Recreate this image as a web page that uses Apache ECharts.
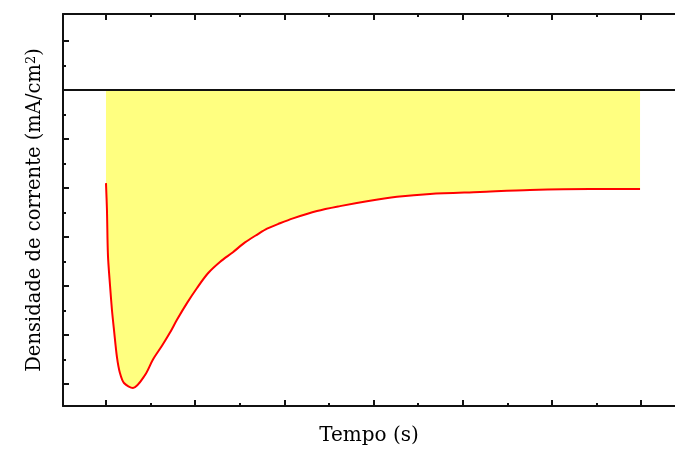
<!DOCTYPE html>
<html>
<head>
<meta charset="utf-8">
<script src="https://cdn.jsdelivr.net/npm/echarts@6/dist/echarts.min.js"></script>
<style>
  html, body { margin: 0; padding: 0; background: #fff; }
  #chart { width: 675px; height: 453px; }
</style>
</head>
<body>
<div id="chart"></div>
<script>
// tempo (s) e densidade de corrente (mA/cm2)
var tempo = [0, 0.11, 0.22, 0.45, 0.67, 0.9, 1.23, 1.57, 2.02, 3.03, 4.37, 5.27, 6.28, 7.18, 7.96, 9.08, 10.21, 11.44, 12.78, 14.24, 15.59, 17.05, 18.06, 19.51, 20.97, 23.66, 26.24, 29.27, 32.63, 36.34, 41.94, 47.55, 54.28, 59.89];
var corrente = [-1.9, -2.45, -3.37, -3.98, -4.49, -4.9, -5.45, -5.78, -5.98, -6.08, -5.82, -5.5, -5.22, -4.95, -4.69, -4.35, -4.04, -3.74, -3.51, -3.31, -3.11, -2.94, -2.83, -2.72, -2.62, -2.47, -2.37, -2.27, -2.18, -2.12, -2.08, -2.04, -2.02, -2.02];

// marcas dos eixos (sem rótulos no original)
var xMajor = [0, 10, 20, 30, 40, 50, 60];
var xMinor = [5, 15, 25, 35, 45, 55];
var yMajor = [-6, -5, -4, -3, -2, -1, 0, 1];
var yMinor = [-5.5, -4.5, -3.5, -2.5, -1.5, -0.5, 0.5];

var xMin = -4.82, xMax = 63.81;
var yMin = -6.449, yMax = 1.551;

var font = 'DejaVu Serif';
var lineCol = '#111';

function xAx(pos, ticks, len, line, extra) {
    var a = {
        type: 'value', position: pos, min: xMin, max: xMax,
        axisLine: { show: line, onZero: false, lineStyle: { color: lineCol, width: 2 } },
        axisTick: { show: true, inside: true, length: len, customValues: ticks,
            lineStyle: { color: lineCol, width: 2 } },
        axisLabel: { show: false },
        splitLine: { show: false }
    };
    return Object.assign(a, extra || {});
}

function yAx(ticks, len, line, extra) {
    var a = {
        type: 'value', position: 'left', min: yMin, max: yMax,
        axisLine: { show: line, onZero: false, lineStyle: { color: lineCol, width: 2 } },
        axisTick: { show: true, inside: true, length: len, customValues: ticks,
            lineStyle: { color: lineCol, width: 2 } },
        axisLabel: { show: false },
        splitLine: { show: false }
    };
    return Object.assign(a, extra || {});
}

var data = tempo.map(function (t, i) { return [t, corrente[i]]; });

var chart = echarts.init(document.getElementById('chart'));
chart.setOption({
    animation: false,
    backgroundColor: '#fff',
    grid: { left: 63, top: 14, right: 0, bottom: 47 },
    xAxis: [
        xAx('bottom', xMajor, 6, true, {
            name: 'Tempo (s)', nameLocation: 'middle', nameGap: 20,
            nameTextStyle: { fontFamily: font, fontSize: 20, color: '#000' }
        }),
        xAx('bottom', xMinor, 3, false),
        xAx('top', xMajor, 6, true),
        xAx('top', xMinor, 3, false)
    ],
    yAxis: [
        yAx(yMajor, 6, true, {
            name: 'Densidade de corrente (mA/cm{sup|2})', nameLocation: 'middle', nameGap: 18,
            nameTextStyle: { fontFamily: font, fontSize: 19.5, color: '#000',
                rich: { sup: { fontFamily: font, fontSize: 13, color: '#000', verticalAlign: 'top' } } }
        }),
        yAx(yMinor, 3, false)
    ],
    series: [{
        type: 'line',
        data: data,
        symbol: 'none',
        smooth: 0.3,
        lineStyle: { color: '#ff0000', width: 2 },
        areaStyle: { color: '#ffff80', opacity: 1, origin: 0 },
        markLine: {
            silent: true, symbol: 'none',
            label: { show: false },
            lineStyle: { color: lineCol, width: 2, type: 'solid' },
            data: [{ yAxis: 0 }]
        },
        z: 2
    }]
});
</script>
</body>
</html>
